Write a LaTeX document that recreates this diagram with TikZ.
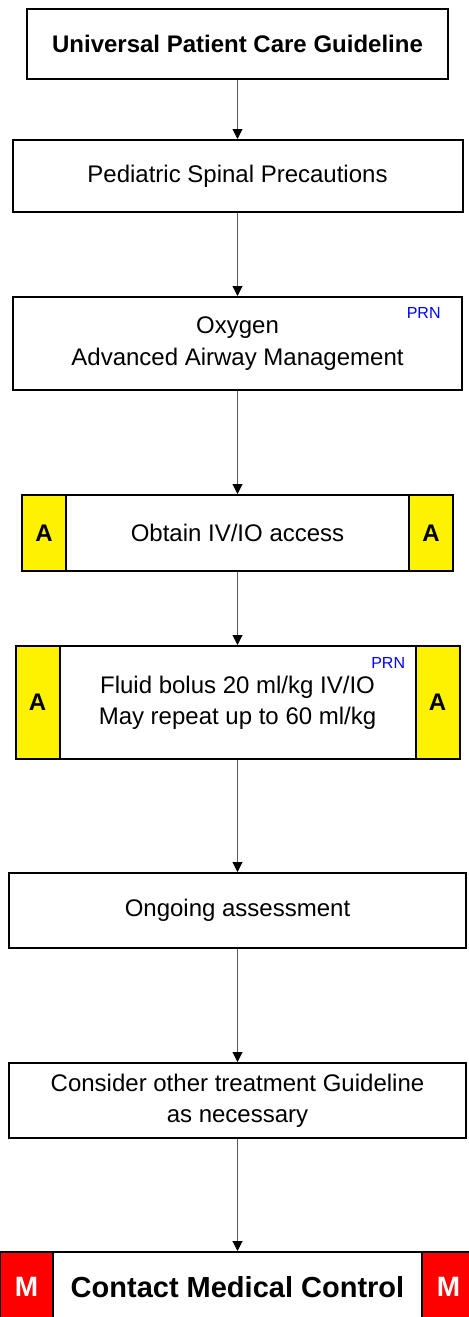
\documentclass[tikz,border=0pt]{standalone}
\usepackage{fontspec}
\setmainfont{Liberation Sans}
\usetikzlibrary{arrows.meta,positioning}

\tikzset{
  stepbox/.style={draw,line width=1pt,fill=white,align=center,inner sep=2pt,
    font=\fontsize{12}{15.7}\selectfont},
  abox/.style={draw,line width=1pt,fill=yellow,minimum width=22pt,
    font=\fontsize{12}{14}\selectfont\bfseries},
  mbox/.style={draw,line width=1pt,fill=red,text=white,minimum width=26.5pt,
    font=\fontsize{14}{17}\selectfont\bfseries},
  prn/.style={text=blue,inner sep=0pt,font=\fontsize{8}{9}\selectfont},
  arrow/.style={->,line width=0.5pt,draw=black!65},
}

\begin{document}
\begin{tikzpicture}[>={Triangle[width=5pt,length=5pt,color=black]},node distance=30pt]

\useasboundingbox (0,0) rectangle (234pt,-658.5pt);

\node[stepbox,minimum width=210.5pt,minimum height=35pt,
  font=\fontsize{12}{15.7}\selectfont\bfseries] (ucg) at (118.75pt,-22pt) {Universal Patient Care Guideline};
\node[stepbox,minimum width=225pt,minimum height=36pt]   (spine)  [below=29.5pt of ucg]   {Pediatric Spinal Precautions};
\node[stepbox,minimum width=224.5pt,minimum height=46.5pt] (oxy)  [below=41.5pt of spine] {Oxygen\\Advanced Airway Management};
\node[stepbox,minimum width=215.5pt,minimum height=38pt]  (iv)     [below=51.5pt of oxy]   {Obtain IV/IO access};
\node[stepbox,minimum width=222pt,minimum height=56.5pt]  (fluid)  [below=36.5pt of iv]    {Fluid bolus 20 ml/kg IV/IO\\May repeat up to 60 ml/kg};
\node[stepbox,minimum width=228.5pt,minimum height=37.5pt] (assess) [below=56pt of fluid]  {Ongoing assessment};
\node[stepbox,minimum width=228.5pt,minimum height=37.5pt] (other)  [below=56.5pt of assess] {Consider other treatment Guideline\\as necessary};
\node[stepbox,minimum width=237.5pt,minimum height=35pt,
  font=\fontsize{14.5}{17}\selectfont\bfseries] (mc) [below=56pt of other] {Contact Medical Control};

% side markers
\node[abox,minimum height=38pt,anchor=north west]   (ivl)    at (iv.north west)    {A};
\node[abox,minimum height=38pt,anchor=north east]   (ivr)    at (iv.north east)    {A};
\node[abox,minimum height=56.5pt,anchor=north west] (fluidl) at (fluid.north west) {A};
\node[abox,minimum height=56.5pt,anchor=north east] (fluidr) at (fluid.north east) {A};
\node[mbox,minimum height=35pt,anchor=north west]   (mcl)    at (mc.north west)    {M};
\node[mbox,minimum height=35pt,anchor=north east]   (mcr)    at (mc.north east)    {M};

\node[prn,anchor=north east] (oxyprn)   at ([xshift=-11pt,yshift=-5.5pt]oxy.north east)   {PRN};
\node[prn,anchor=north east] (fluidprn) at ([xshift=-27.5pt,yshift=-6pt]fluid.north east) {PRN};

\path[arrow] (ucg) edge (spine)
      (spine) edge (oxy)
      (oxy) edge (iv)
      (iv) edge (fluid)
      (fluid) edge (assess)
      (assess) edge (other)
      (other) edge (mc);

\end{tikzpicture}
\end{document}
